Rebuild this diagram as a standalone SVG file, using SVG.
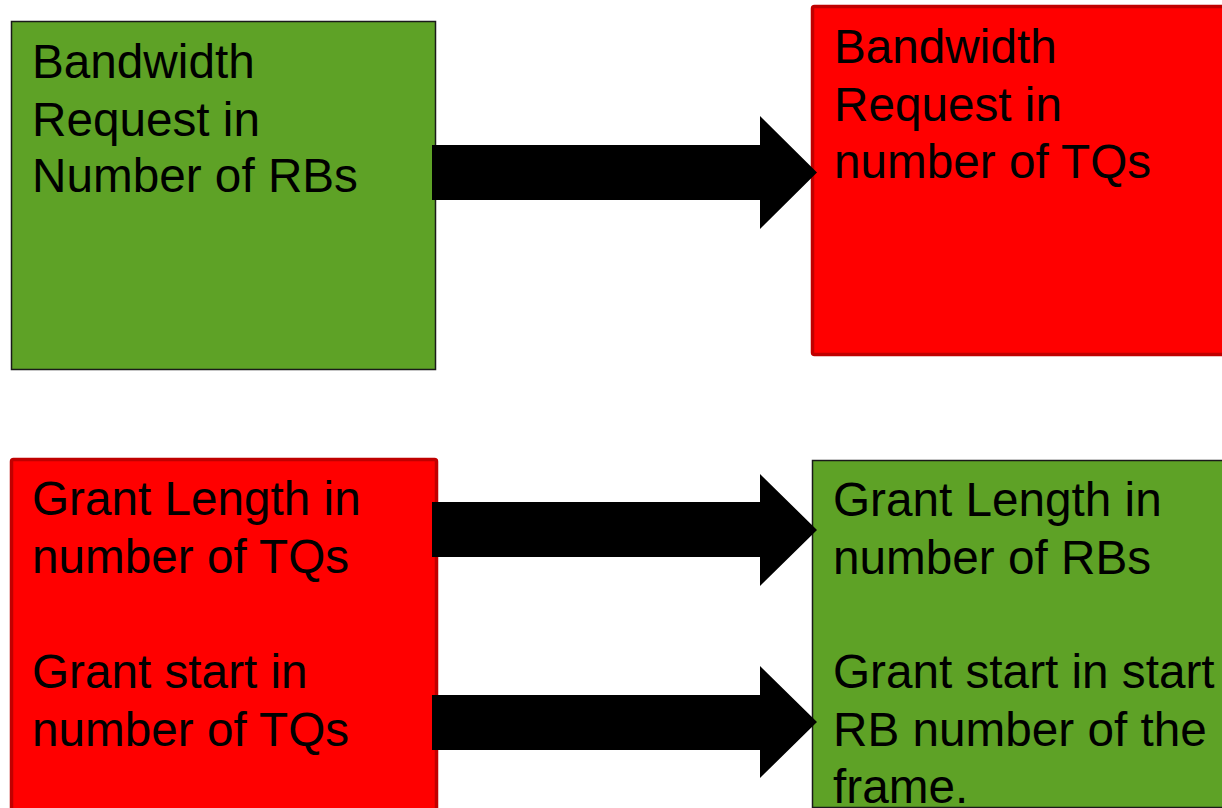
<svg xmlns="http://www.w3.org/2000/svg" width="1222" height="808" viewBox="0 0 1222 808">
<style>
.green{fill:#5ea226;stroke:#1a1a1a;stroke-width:1.5}
.red{fill:#ff0000;stroke:#c00000;stroke-width:3.5}
.t{font-family:"Liberation Sans",Arial,sans-serif;font-size:47.7px;fill:#000}
.arr{fill:#000}
</style>
<rect width="1222" height="808" fill="#fff"/>
<g id="node-rb-request">
<rect class="green" x="11.5" y="21.5" width="424" height="348"/>
<text class="t"><tspan x="32" y="78">Bandwidth</tspan><tspan x="32" y="136">Request in</tspan><tspan x="32" y="192">Number of RBs</tspan></text>
</g>
<g id="node-tq-request">
<rect class="red" x="812.5" y="6.5" width="420" height="348" rx="2"/>
<text class="t"><tspan x="834" y="63">Bandwidth</tspan><tspan x="834" y="121">Request in</tspan><tspan x="834" y="178">number of TQs</tspan></text>
</g>
<g id="node-tq-grant">
<rect class="red" x="11.5" y="459.5" width="425" height="360" rx="2"/>
<text class="t"><tspan x="32" y="515">Grant Length in</tspan><tspan x="32" y="573">number of TQs</tspan><tspan x="32" y="688">Grant start in</tspan><tspan x="32" y="746">number of TQs</tspan></text>
</g>
<g id="node-rb-grant">
<rect class="green" x="812.5" y="460.5" width="420" height="347"/>
<text class="t"><tspan x="833" y="516">Grant Length in</tspan><tspan x="833" y="574">number of RBs</tspan><tspan x="833" y="688">Grant start in start</tspan><tspan x="833" y="746">RB number of the</tspan><tspan x="833" y="803">frame.</tspan></text>
</g>
<g id="connectors">
<polygon class="arr" points="432,145 760,145 760,116 817,172.5 760,229 760,200 432,200"/>
<polygon class="arr" points="432,502 760,502 760,474 817,530 760,586 760,557 432,557"/>
<polygon class="arr" points="432,695 760,695 760,666 817,722 760,778 760,750 432,750"/>
</g>
</svg>
